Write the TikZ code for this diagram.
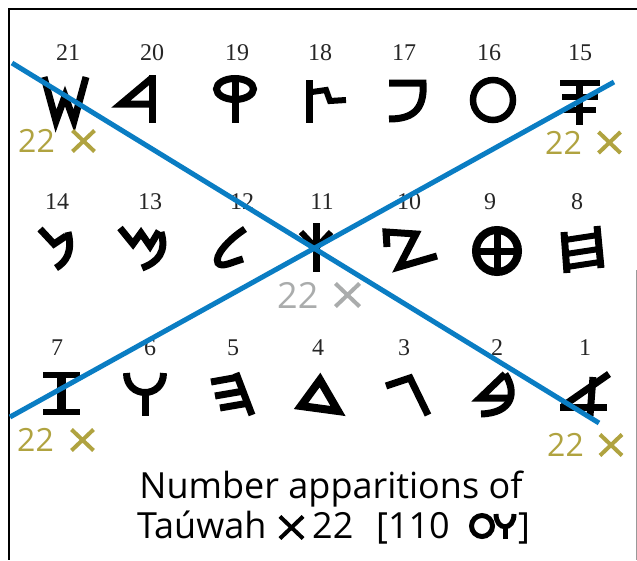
\documentclass[tikz,border=0pt]{standalone}
\usepackage{fontspec}
\setmainfont{Liberation Serif}
\newfontfamily\lab{Open Sans}
\definecolor{blueline}{RGB}{10,125,195}
\definecolor{goldtxt}{RGB}{176,163,64}
\definecolor{greytxt}{RGB}{170,172,172}
\begin{document}
\begin{tikzpicture}[x=1pt,y=-1pt,
  num/.style={anchor=base,inner sep=0pt,font=\fontsize{24}{24}\selectfont,text=black!85},
  glyph/.style={line width=7pt,black},
  cnt/.style={anchor=base west,inner sep=0pt,font=\lab\fontsize{32}{32}\selectfont},
  captxt/.style={anchor=base west,inner sep=0pt,font=\lab\fontsize{36}{36}\selectfont},
  diag/.style={line width=5pt,blueline},
  xmark/.pic={\draw[line width=4pt] (-11,-10.5) -- (11,10.5) (-11,10.5) -- (11,-10.5);}]
\useasboundingbox (0,0) rectangle (637,560);
% frame
\draw[line width=2pt] (8,9) -- (637,9);
\draw[line width=2pt] (9,9) -- (9,560);
\draw[line width=0.6pt,black!40] (636,270) -- (636,560);
% numbers row 1
\node[num] (n21) at (68,60) {21};
\node[num] (n20) at (152,60) {20};
\node[num] (n19) at (237,60) {19};
\node[num] (n18) at (320,60) {18};
\node[num] (n17) at (404,60) {17};
\node[num] (n16) at (489,60) {16};
\node[num] (n15) at (580,60) {15};
% numbers row 2
\node[num] (n14) at (57,209) {14};
\node[num] (n13) at (150,209) {13};
\node[num] (n12) at (242,209) {12};
\node[num] (n11) at (322,209) {11};
\node[num] (n10) at (409,209) {10};
\node[num] (n9) at (490,209) {9};
\node[num] (n8) at (577,209) {8};
% numbers row 3
\node[num] (n7) at (57,355) {7};
\node[num] (n6) at (150,355) {6};
\node[num] (n5) at (233,355) {5};
\node[num] (n4) at (318,355) {4};
\node[num] (n3) at (404,355) {3};
\node[num] (n2) at (497,355) {2};
\node[num] (n1) at (585,355) {1};
% glyphs row 1
\draw[glyph,line join=miter] (44,77) -- (56,121) -- (65,96) -- (74,121) -- (86,77);
\draw[glyph] (152,75) -- (152,123);
\draw[glyph,line join=miter] (152,78) -- (121,104) -- (152,104);
\draw[glyph] (235,89) ellipse (18.5 and 10.5);
\draw[glyph] (235,78) -- (235,123);
\draw[glyph] (309,80) -- (309,123);
\draw[line width=6pt,line join=miter] (312,92) -- (326,90) -- (330,101) -- (346,100);
\draw[glyph] (389,83) -- (423,83) .. controls (425,112) and (410,119) .. (389,119);
\draw[line width=6.5pt] (493,100) circle (20);
\draw[line width=6pt] (560,83) -- (600,83) (562,97) -- (598,97) (564,110) -- (596,110);
\draw[glyph] (579,80) -- (579,125);
% glyphs row 2
\draw[glyph,line join=miter] (40,229) -- (54,244) -- (66,236);
\draw[glyph] (68,232) .. controls (73,252) and (66,262) .. (56,268);
\draw[glyph,line join=miter] (120,228) -- (133,244) -- (141,233) -- (150,246) -- (159,231);
\draw[glyph] (161,232) .. controls (167,252) and (158,262) .. (142,268);
\draw[glyph] (245,229) .. controls (228,240) and (214,256) .. (218,263) .. controls (222,268) and (232,262) .. (243,259);
\draw[glyph] (316,223) -- (316,272);
\draw[line width=6pt] (301,232) -- (316,248) -- (331,232);
\draw[glyph,line join=miter] (387,247) -- (386,232) -- (416,234) -- (399,267) -- (437,256);
\draw[line width=8pt] (497,251) circle (21);
\draw[glyph] (476,251) -- (518,251) (497,230) -- (497,272);
\draw[glyph] (564,232) -- (567,273) (597,226) -- (601,268);
\draw[line width=6pt] (565,240) -- (598,235) (566,254) -- (599,249) (567,267) -- (600,262);
% glyphs row 3
\fill (43,372) rectangle (80,378);
\fill (57,372) rectangle (66,415);
\fill (43,409) rectangle (80,415);
\draw[glyph] (126.5,373) .. controls (126.5,399) and (163.5,399) .. (163.5,373);
\draw[glyph] (145,390) -- (145,416);
\draw[glyph] (236,373) -- (252,415);
\draw[line width=7pt] (211,382) -- (239,377) (215,396) -- (244,391) (220,408) -- (249,403);
\draw[line width=8pt,line join=miter] (320,380) -- (301,406) -- (338,411) -- cycle;
\draw[glyph,line join=miter] (386,386) -- (410,378) -- (428,415);
\draw[glyph,line join=miter] (505,374) -- (480,398) -- (509,398);
\draw[glyph] (505,374) .. controls (517,392) and (513,413) .. (481,414);
\draw[glyph] (609,374) -- (563,406);
\draw[glyph] (560,407) -- (607,407);
\draw[glyph] (593,377) -- (590,416);
% counts
\node[cnt,text=goldtxt] (c21) at (18,152) {22};
\pic[goldtxt] at (83.5,141) {xmark};
\node[cnt,text=goldtxt] (c15) at (545,154) {22};
\pic[goldtxt] at (609.5,142.5) {xmark};
\node[cnt,text=greytxt,font=\lab\fontsize{36}{36}\selectfont] (c11) at (277,308) {22};
\pic[greytxt,scale=1.1] at (347.5,295) {xmark};
\node[cnt,text=goldtxt] (c7) at (17,451) {22};
\pic[goldtxt] at (82.5,440) {xmark};
\node[cnt,text=goldtxt] (c1) at (547,456) {22};
\pic[goldtxt] at (611,445) {xmark};
% diagonals
\coordinate (d1) at (12,63);
\coordinate (d2) at (599,423);
\coordinate (d3) at (10,417);
\coordinate (d4) at (614,82);
\draw[diag] (d1) -- (d2);
\draw[diag] (d3) -- (d4);
% caption
\node[captxt,anchor=base] (t1) at (331,498) {Number apparitions of};
\node[captxt] (t2) at (137,538) {Taúwah};
\pic[black,scale=1.05] at (291.5,527.5) {xmark};
\node[captxt] (t3) at (312,538) {22};
\node[captxt] (t4) at (376,538) {[110};
\draw[line width=5pt] (482,526) circle (10.5);
\draw[line width=5pt] (496,514) .. controls (496,531) and (514,531) .. (514,514);
\draw[line width=5pt] (505,526) -- (505,539);
\node[captxt] (t5) at (518,538) {]};
\end{tikzpicture}
\end{document}
